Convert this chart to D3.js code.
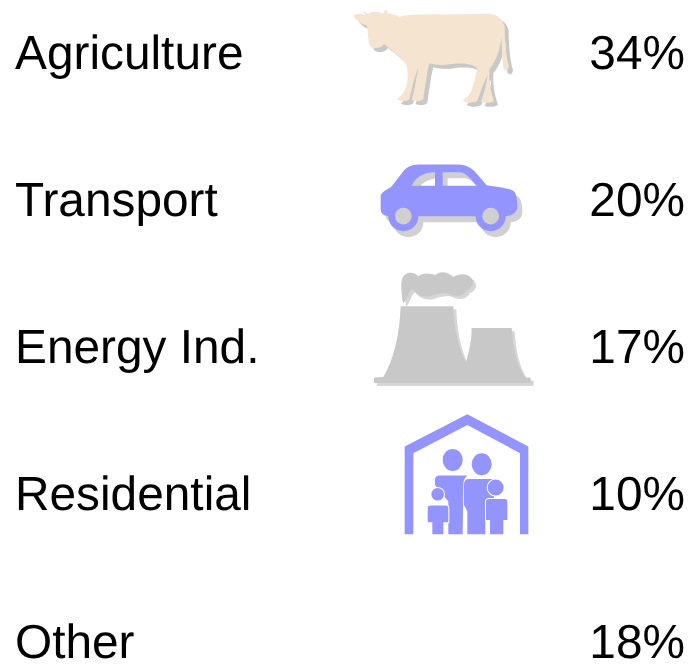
<!DOCTYPE html>
<html>
<head>
<meta charset="utf-8">
<script src="https://cdn.jsdelivr.net/npm/d3@7"></script>
<style>
  html, body { margin: 0; background: #fff; }
  svg { display: block; }
  text { font-family: "Liberation Sans", Arial, sans-serif; font-size: 47.8px; fill: #000; text-rendering: geometricPrecision; filter: blur(0.3px); }
</style>
</head>
<body>
<svg width="696" height="665"></svg>
<script>
const categories = ['Agriculture', 'Transport', 'Energy Ind.', 'Residential', 'Other'];
const shares = [34, 20, 17, 10, 18];
const iconNames = ['cow', 'car', 'plant', 'house', null];

// icon outlines are traced at 3x, so they get scaled down when placed
const iconPaths = {
    cow: 'M40,46 C50,40 65,42 75,46 L69,31 L83,42 C95,33 118,34 128,41 L138,27 L144,42 C155,44 170,44 178,50 C195,45 240,43 300,43 C360,44 420,40 450,42 C475,44 490,60 494,80 C494,110 497,170 507,198 C506,212 495,216 490,205 C487,180 485,130 484,110 C480,150 470,180 448,208 C447,240 450,270 462,303 C450,310 430,310 422,305 C432,285 438,255 443,225 C432,245 420,280 412,303 C400,310 380,310 368,302 C380,292 392,282 398,262 C404,240 408,225 412,205 C395,192 375,188 335,192 C310,196 290,196 268,190 L262,215 C258,245 252,275 250,298 C240,305 225,305 215,300 C222,280 228,240 235,200 C225,225 215,270 208,298 C198,305 180,306 170,298 C182,290 192,280 198,262 C205,240 205,215 197,190 C180,170 155,150 132,132 C125,145 105,147 92,140 C84,130 86,110 80,75 C70,78 50,65 40,46 Z',
    car: 'M62,135 C70,120 85,118 95,108 L125,70 C138,50 155,44 175,43 L295,43 C320,43 335,55 345,65 L380,105 C410,110 445,113 460,122 C470,130 472,150 472,170 C470,190 455,197 437,198 A45,45 0 0 1 347,198 L175,198 A45,45 0 0 1 85,198 C70,196 62,190 62,175 Z M155,107 C165,85 185,66 225,66 L225,107 Z M248,66 L300,66 C320,68 335,90 350,107 L248,107 Z',
    plant: 'M70,350 C100,300 118,230 122,138 L280,138 C282,200 295,270 318,305 C328,270 335,240 335,203 L455,203 C458,260 470,320 497,352 L512,352 L512,368 L42,368 L42,352 Z M130,130 C125,110 122,80 125,60 C130,35 160,30 175,48 C190,35 215,40 225,45 C240,30 265,35 280,50 C300,38 325,40 335,55 C345,70 335,85 320,90 C310,110 285,112 265,100 C240,95 225,105 210,108 C190,112 165,105 158,85 C145,95 140,120 130,130 Z',
    house: 'M232,28 L415,125 L415,388 L390,388 L390,145 L232,60 L70,145 L70,388 L44,388 L44,125 Z',
    adults: 'M158,165 A30,33 0 1 1 218,165 A30,33 0 1 1 158,165 Z M245,178 A30,33 0 1 1 305,178 A30,33 0 1 1 245,178 Z M135,225 Q135,212 150,212 L232,212 Q220,222 220,240 L218,388 L175,388 L175,290 L135,240 Z M222,238 Q222,222 238,222 L312,222 L312,290 L286,290 L286,388 L232,388 L232,320 L222,300 Z',
    kids: 'M124,268 A19,19 0 1 1 162,268 A19,19 0 1 1 124,268 Z M293,248 A24,24 0 1 1 341,248 A24,24 0 1 1 293,248 Z M121,302 L167,302 Q175,302 175,310 L175,352 L160,352 L160,388 L127,388 L127,352 L113,352 L113,310 Q113,302 121,302 Z M296,282 L344,282 Q352,282 352,290 L352,345 L340,345 L340,388 L300,388 L300,345 L288,345 L288,290 Q288,282 296,282 Z'
};

const icons = {
    cow: { x: 340, y: -69, fill: '#f5e4d0', shadow: '#c8c8c8', dx: 4, dy: 4 },
    car: { x: 360, y: -66, fill: '#9494ff', shadow: '#d0d0d0', dx: 5, dy: 6 },
    plant: { x: 360, y: -103, fill: '#c8c8c8', shadow: '#d6d6d6', dx: 3, dy: 3 },
    house: { x: 390, y: -105.5, fill: '#9494ff', shadow: null }
};

const svg = d3.select('svg');

const y = d3.scalePoint().domain(categories).range([69, 657.5]);

svg.selectAll('text.label')
    .data(categories)
    .join('text')
    .attr('class', 'label')
    .attr('x', 15)
    .attr('y', (d) => y(d))
    .text((d) => d);

svg.selectAll('text.share')
    .data(shares)
    .join('text')
    .attr('class', 'share')
    .attr('x', 685)
    .attr('y', (d, i) => y(categories[i]))
    .attr('text-anchor', 'end')
    .text((d) => `${d}%`);

// icons, each with a soft offset shadow under it
iconNames.forEach((name, i) => {
    if (!name) return;
    const icon = icons[name];
    const g = svg.append('g')
        .attr('transform', `translate(${icon.x},${y(categories[i]) + icon.y}) scale(${1 / 3})`)
        .style('filter', 'blur(0.5px)');

    if (icon.shadow) {
        g.append('path')
            .attr('d', iconPaths[name])
            .attr('fill', icon.shadow)
            .attr('fill-rule', 'evenodd')
            .attr('transform', `translate(${icon.dx * 3},${icon.dy * 3})`);
    }
    g.append('path')
        .attr('d', iconPaths[name])
        .attr('fill', icon.fill)
        .attr('fill-rule', 'evenodd');

    if (name === 'car') {
        g.selectAll('circle')
            .data([130, 392])
            .join('circle')
            .attr('cx', (d) => d)
            .attr('cy', 198)
            .attr('r', 25)
            .attr('fill', '#d0d0d0');
    }
    if (name === 'house') {
        g.append('path').attr('d', iconPaths.adults).attr('fill', icon.fill);
        g.append('path')
            .attr('d', iconPaths.kids)
            .attr('fill', icon.fill)
            .attr('stroke', '#fff')
            .attr('stroke-width', 6)
            .attr('paint-order', 'stroke');
    }
});
</script>
</body>
</html>
